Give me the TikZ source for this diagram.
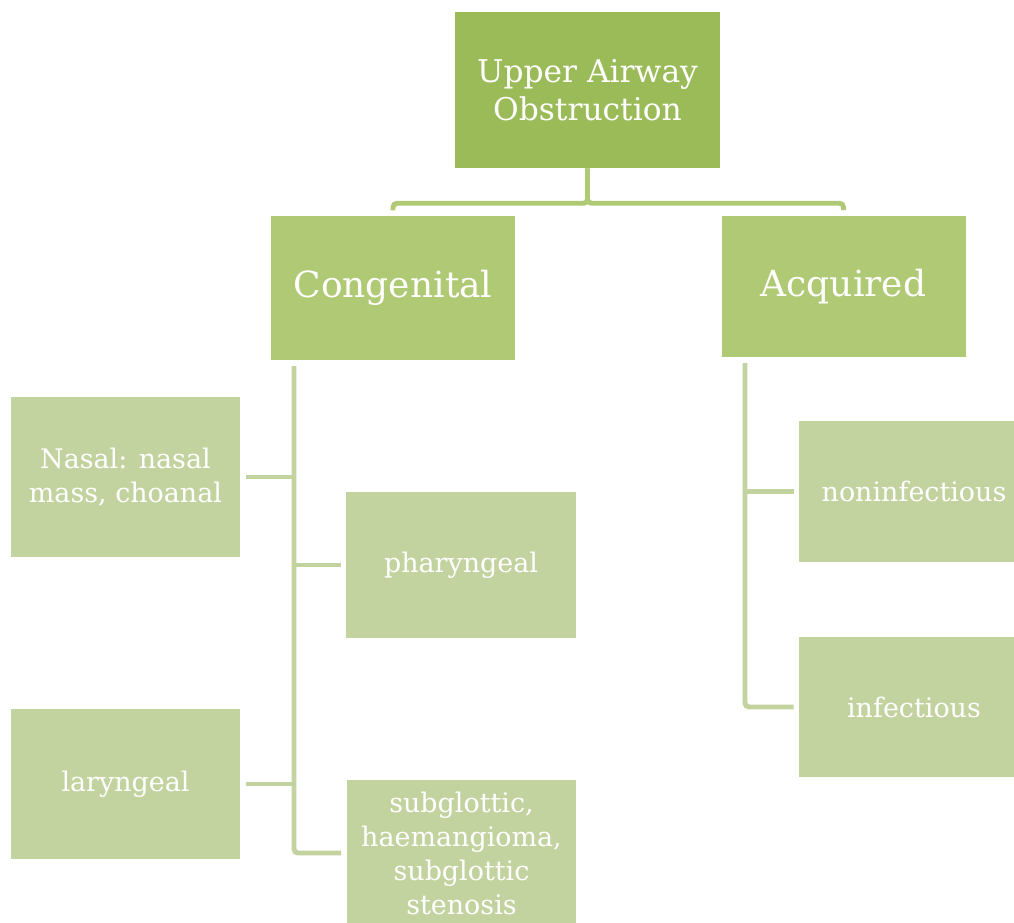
\documentclass[tikz,border=0pt]{standalone}
\usepackage{fontspec}
\setmainfont{DejaVu Serif}
\usepackage{tikz}

\definecolor{rootgreen}{HTML}{9BBB59}
\definecolor{catgreen}{HTML}{AFC974}
\definecolor{leafgreen}{HTML}{C3D39F}

\begin{document}
\begin{tikzpicture}
[
x=0.75pt, y=-0.75pt,
root/.style={rectangle, fill=rootgreen, text=white, align=center, inner sep=0pt, minimum width=199pt, minimum height=117pt, font=\fontsize{23.5}{28.5}\selectfont},
cat/.style={rectangle, fill=catgreen, text=white, align=center, inner sep=0pt, minimum width=183pt, minimum height=107pt, font=\fontsize{27}{30}\selectfont},
leaf/.style={rectangle, fill=leafgreen, text=white, align=center, inner sep=0pt, minimum width=172pt, minimum height=109pt, font=\fontsize{20.2}{25.5}\selectfont},
trunk/.style={draw=catgreen, line width=3.7pt, rounded corners=3pt},
branch/.style={draw=leafgreen, line width=3.7pt, rounded corners=3pt}
]
\useasboundingbox (0,0) rectangle (1014,922);
\clip (0,0) rectangle (1014,922);
%Nodes
\node[root]  (uao)     at (587.5,90)   {Upper Airway\\Obstruction};
\node[cat, minimum height=108pt]   (cong)    at (393,288)    {Congenital};
\node[cat, minimum height=106pt]   (acq)     at (843.5,286.5){Acquired};
\node[leaf, minimum height=120pt]  (nasal)   at (125.5,477)  {Nasal: nasal\\mass, choanal};
\node[leaf]  (pharyn)  at (461,565)    {pharyngeal};
\node[leaf, minimum height=112.5pt]  (laryn)   at (125.5,784)  {laryngeal};
\node[leaf] (subglot) at (461.5,853) {subglottic,\\haemangioma,\\subglottic\\stenosis};
\node[leaf, minimum height=106pt]  (noninf)  at (914,491.5)  {noninfectious};
\node[leaf, minimum height=105pt]  (inf) at (914,707) {infectious};

\coordinate (cspine) at (294,366);
\coordinate (aspine) at (745,363);

%Lines
\draw[trunk, shorten >=4pt] (uao.south) -- ++(0,35) -| (cong.north);
\draw[trunk, shorten >=4pt] (uao.south) -- ++(0,35) -| (acq.north);
\draw[branch, shorten >=4pt] (cspine) |- (subglot.west);
\draw[branch, shorten <=4.5pt] (nasal.east) -- (nasal.east -| cspine);
\draw[branch, shorten >=4pt] (pharyn.west -| cspine) -- (pharyn.west);
\draw[branch, shorten <=4.5pt] (laryn.east) -- (laryn.east -| cspine);
\draw[branch, shorten >=4pt] (aspine) |- (inf.west);
\draw[branch, shorten >=4pt] (noninf.west -| aspine) -- (noninf.west);
\end{tikzpicture}
\end{document}
